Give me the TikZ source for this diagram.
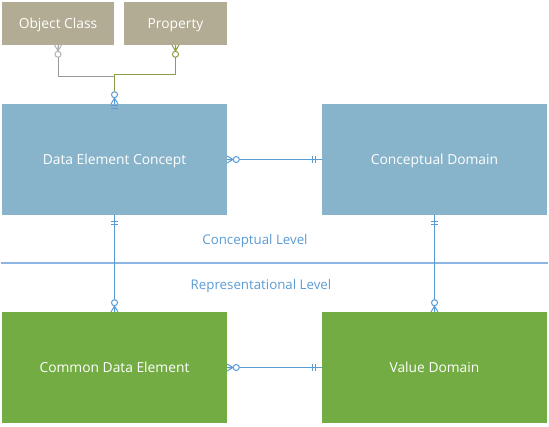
\documentclass[tikz,border=0pt]{standalone}
\usepackage{fontspec}
\setmainfont{Open Sans}
\usetikzlibrary{positioning}

\definecolor{tanbox}{HTML}{B1AC93}
\definecolor{bluebox}{HTML}{87B4CB}
\definecolor{greenbox}{HTML}{72AC42}
\definecolor{linkblue}{HTML}{5B9BD5}
\definecolor{seplight}{HTML}{8EB4E3}
\definecolor{olive}{HTML}{8A9E48}

\begin{document}
\begin{tikzpicture}[
        x=1pt,y=1pt,
        entity/.style={
            rectangle,
            fill=#1,
            text=white,
            inner sep=0pt,
            outer sep=0pt,
            text depth=0pt,
            font=\fontsize{13.8}{16}\selectfont},
        bigbox/.style={entity=#1, minimum width=225pt, minimum height=111pt},
        smallbox/.style={entity=tanbox, minimum height=43pt},
        link/.style={draw=linkblue, line width=1pt},
        levellabel/.style={text=linkblue, font=\fontsize{13.3}{16}\selectfont},
        zmany/.pic={
            \draw (0,3.5) -- (6,0) -- (0,-3.5) (0,0) -- (6,0);
            \draw[fill=white] (9.3,0) circle (3);},
        oneone/.pic={
            \draw (6.7,-3.5) -- (6.7,3.5) (9.3,-3.5) -- (9.3,3.5);},
        node distance=97pt and 95pt
        ]
        \useasboundingbox (0,0) rectangle (549,-426);

        \node[bigbox=bluebox, anchor=north west] (dec) at (2,-104) {Data Element Concept};
        \node[bigbox=bluebox, right=of dec] (cd) {Conceptual Domain};
        \node[bigbox=greenbox, below=of dec] (cde) {Common Data Element};
        \node[bigbox=greenbox, right=of cde] (vd) {Value Domain};
        \node[smallbox, minimum width=112pt, above right=59pt and 0pt of dec.north west] (oc) {Object Class};
        \node[smallbox, minimum width=103pt, right=10pt of oc] (prop) {Property};

        % level separator
        \coordinate (sepl) at (1,-263);
        \coordinate (sepr) at (548,-263);
        \draw[draw=seplight, line width=1.2pt] (sepl) -- (sepr);
        \node[levellabel] (clevel) at (255,-241.5) {Conceptual Level};
        \node[levellabel] (rlevel) at (261,-286.5) {Representational Level};

        \foreach \i/\j/\p/\q/\a/\b in {% start/end/start mark/end mark/start angle/end angle
            dec/cd/zmany/oneone/0/180,
            cde/vd/zmany/oneone/0/180,
            dec/cde/oneone/zmany/-90/90,
            cd/vd/oneone/zmany/-90/90}
            {
            \draw[link] (\i) -- (\j);
            \pic[link, rotate=\a] at (\i.\a) {\p};
            \pic[link, rotate=\b] at (\j.\b) {\q};
            }

        % object class and property into the concept
        \draw[draw=gray!80, line width=1pt] (oc.south) -- ++(0,-31) -| (dec.north);
        \draw[draw=olive, line width=1pt] (prop.south) -- ++(0,-29.5) -| (dec.north);
        \pic[draw=gray!60, line width=1pt, rotate=-90] at (oc.south) {zmany};
        \pic[draw=olive, line width=1pt, rotate=-90] at (prop.south) {zmany};
        \pic[link, rotate=90] at (dec.north) {zmany};
        \pic[link, rotate=-90] at ([yshift=5pt]dec.north) {oneone};
\end{tikzpicture}
\end{document}
